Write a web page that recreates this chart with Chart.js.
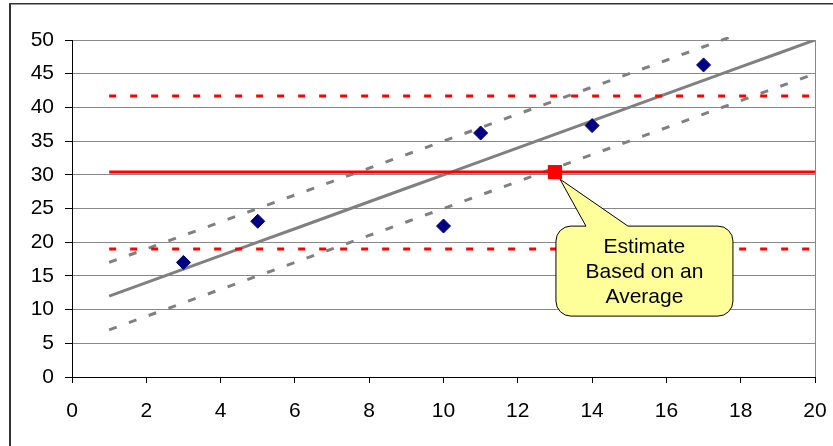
<!DOCTYPE html>
<html>
<head>
<meta charset="utf-8">
<script src="https://cdn.jsdelivr.net/npm/chart.js@4/dist/chart.umd.min.js"></script>
<style>
  html, body { margin: 0; padding: 0; background: #fff; }
  #wrap { width: 833px; height: 446px; position: relative; }
</style>
</head>
<body>
<div id="wrap"><canvas id="chart" width="833" height="446"></canvas></div>
<script>
// Observed values
const observedX = [3, 5, 10, 11, 14, 17];
const observedY = [17, 23.1, 22.4, 36.2, 37.3, 46.3];

// Fitted trend line and its band
const fitX = [1, 2, 3, 4, 5, 6, 7, 8, 9, 10, 11, 12, 13, 14, 15, 16, 17, 18, 19, 20];
const fitY = [12, 14, 16, 18, 20, 22, 24, 26, 28, 30, 32, 34, 36, 38, 40, 42, 44, 46, 48, 50];
const upperX = [1, 2, 3, 4, 5, 6, 7, 8, 9, 10, 11, 12, 13, 14, 15, 16, 17, 18];
const upperY = [17, 19, 21, 23, 25, 27, 29, 31, 33, 35, 37, 39, 41, 43, 45, 47, 49, 51];
const lowerX = [1, 2, 3, 4, 5, 6, 7, 8, 9, 10, 11, 12, 13, 14, 15, 16, 17, 18, 19, 20];
const lowerY = [7, 9, 11, 13, 15, 17, 19, 21, 23, 25, 27, 29, 31, 33, 35, 37, 39, 41, 43, 45];

// Average level and its limits, drawn across this x span
const spanX = [1, 20];
const averageLevel = 30.4;
const upperLimit = 41.7;
const lowerLimit = 19.0;

// Estimate point and its note
const estimateX = 13;
const estimateY = 30.4;
const noteLines = ['Estimate', 'Based on an', 'Average'];

// Axis ranges and tick steps
const xRange = [0, 20];
const xStep = 2;
const yRange = [0, 50];
const yStep = 5;

const FONT = "'Liberation Sans', Arial, sans-serif";
const GRAY = '#808080';
const RED = '#ff0000';

function pairs(xs, ys) { return xs.map((x, i) => ({ x: x, y: ys[i] })); }
function flat(xs, level) { return xs.map(x => ({ x: x, y: level })); }

const lineBase = { showLine: true, pointRadius: 0, pointHoverRadius: 0, tension: 0, fill: false, borderCapStyle: 'butt' };

// Outer frame of the figure
const framePlugin = {
  id: 'frame',
  beforeDraw(chart) {
    const ctx = chart.ctx;
    ctx.save();
    ctx.fillStyle = '#fff';
    ctx.fillRect(0, 0, chart.width, chart.height);
    ctx.fillStyle = '#333';
    ctx.fillRect(9, 3, chart.width - 9, 1.5);
    ctx.fillRect(9, 3, 2, chart.height - 3);
    ctx.restore();
  }
};

// Speech-bubble note pointing at the estimate point
const notePlugin = {
  id: 'note',
  afterDatasetsDraw(chart) {
    const ctx = chart.ctx;
    const px = chart.scales.x.getPixelForValue(estimateX);
    const py = chart.scales.y.getPixelForValue(estimateY);
    const left = px + 1, right = px + 178, top = py + 54, bottom = py + 144, r = 15;
    const baseL = px + 31, baseR = px + 73;
    const tipX = px + 5, tipY = py + 7;
    ctx.save();
    ctx.beginPath();
    ctx.moveTo(left + r, top);
    ctx.lineTo(baseL, top);
    ctx.lineTo(tipX, tipY);
    ctx.lineTo(baseR, top);
    ctx.lineTo(right - r, top);
    ctx.arcTo(right, top, right, top + r, r);
    ctx.lineTo(right, bottom - r);
    ctx.arcTo(right, bottom, right - r, bottom, r);
    ctx.lineTo(left + r, bottom);
    ctx.arcTo(left, bottom, left, bottom - r, r);
    ctx.lineTo(left, top + r);
    ctx.arcTo(left, top, left + r, top, r);
    ctx.closePath();
    ctx.fillStyle = '#ffff99';
    ctx.fill();
    ctx.lineWidth = 1;
    ctx.strokeStyle = '#000';
    ctx.stroke();
    ctx.fillStyle = '#000';
    ctx.font = '21px ' + FONT;
    ctx.textAlign = 'center';
    ctx.textBaseline = 'alphabetic';
    const cx = (left + right) / 2;
    noteLines.forEach((t, i) => ctx.fillText(t, cx, top + 27 + i * 25));
    ctx.restore();
  }
};

new Chart(document.getElementById('chart'), {
  type: 'scatter',
  data: {
    datasets: [
      {
        label: 'Observed',
        data: pairs(observedX, observedY),
        pointStyle: 'rectRot',
        pointRadius: 7,
        pointHoverRadius: 7,
        backgroundColor: '#000080',
        borderColor: '#000080',
        borderWidth: 1
      },
      {
        label: 'Estimate',
        data: [{ x: estimateX, y: estimateY }],
        pointStyle: 'rect',
        pointRadius: 10,
        pointHoverRadius: 10,
        backgroundColor: RED,
        borderWidth: 0
      },
      Object.assign({}, lineBase, {
        label: 'Average',
        data: flat(spanX, averageLevel),
        borderColor: RED,
        borderWidth: 3
      }),
      Object.assign({}, lineBase, {
        label: 'Upper limit',
        data: flat(spanX, upperLimit),
        borderColor: RED,
        borderWidth: 3,
        borderDash: [7, 14]
      }),
      Object.assign({}, lineBase, {
        label: 'Lower limit',
        data: flat(spanX, lowerLimit),
        borderColor: RED,
        borderWidth: 3,
        borderDash: [7, 14]
      }),
      Object.assign({}, lineBase, {
        label: 'Trend',
        data: pairs(fitX, fitY),
        borderColor: GRAY,
        borderWidth: 3
      }),
      Object.assign({}, lineBase, {
        label: 'Upper band',
        data: pairs(upperX, upperY),
        borderColor: GRAY,
        borderWidth: 3,
        borderDash: [8, 13],
        clip: { left: 0, top: 3, right: 0, bottom: 0 }
      }),
      Object.assign({}, lineBase, {
        label: 'Lower band',
        data: pairs(lowerX, lowerY),
        borderColor: GRAY,
        borderWidth: 3,
        borderDash: [8, 13]
      })
    ]
  },
  options: {
    responsive: false,
    animation: false,
    events: [],
    layout: { padding: { top: 40, right: 18, bottom: 0, left: 0 } },
    plugins: {
      legend: { display: false },
      tooltip: { enabled: false }
    },
    scales: {
      x: {
        type: 'linear',
        min: xRange[0],
        max: xRange[1],
        afterFit(scale) {
          scale.height = 69;
          scale.paddingLeft = 0;
          scale.paddingRight = 0;
        },
        ticks: {
          stepSize: xStep,
          color: '#000',
          padding: 16,
          font: { family: FONT, size: 21 }
        },
        grid: {
          color: c => (c.tick && c.tick.value === xRange[1]) ? '#888' : 'rgba(0,0,0,0)',
          tickColor: '#000',
          tickLength: 6,
          lineWidth: 1
        },
        border: { display: true, color: '#000', width: 1 }
      },
      y: {
        type: 'linear',
        min: yRange[0],
        max: yRange[1],
        afterFit(scale) {
          scale.width = 72;
          scale.paddingTop = 0;
          scale.paddingBottom = 0;
        },
        ticks: {
          stepSize: yStep,
          color: '#000',
          padding: 11,
          font: { family: FONT, size: 21 }
        },
        grid: {
          color: c => (c.tick && c.tick.value === yRange[0]) ? 'rgba(0,0,0,0)' : '#888',
          tickColor: '#000',
          tickLength: 7,
          lineWidth: 1
        },
        border: { display: true, color: '#000', width: 1 }
      }
    }
  },
  plugins: [framePlugin, notePlugin]
});
</script>
</body>
</html>
